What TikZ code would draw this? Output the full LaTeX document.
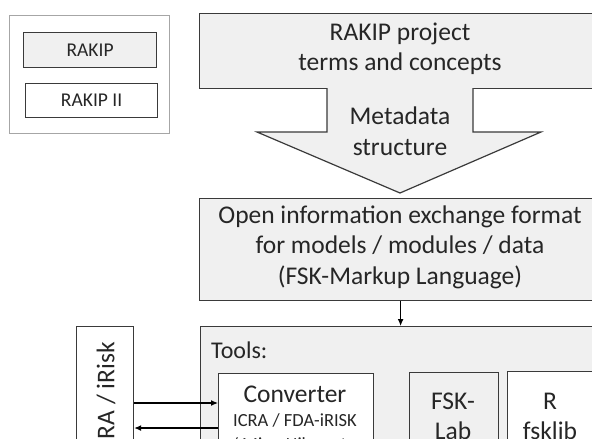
\documentclass[tikz,border=0pt]{standalone}
\usepackage{fontspec}
\setmainfont{Carlito}
\usetikzlibrary{arrows.meta}
\definecolor{boxfill}{HTML}{F0F0F0}
\definecolor{edge}{HTML}{3A3A3A}
\definecolor{legendedge}{HTML}{A6A6A6}
\begin{document}
\begin{tikzpicture}[x=1pt,y=-1pt,
  box/.style={draw=edge, line width=1.2pt, inner sep=0pt, anchor=north west},
  big/.style={font=\fontsize{25.5}{30}\selectfont, align=center, text=black!85},
  mid/.style={font=\fontsize{24}{28}\selectfont, text=black!85},
  small/.style={font=\fontsize{18.5}{22}\selectfont, text=black!85},
  leg/.style={font=\fontsize{19.5}{22}\selectfont, text=black!85},
  arr/.style={line width=1.2pt, draw=black, -{Latex[length=7pt,width=6pt]}}]
\useasboundingbox (0,0) rectangle (592,439);
\clip (0,0) rectangle (592,439);
\fill[white] (0,0) rectangle (592,439);
% legend
\node[draw=legendedge, line width=1pt, anchor=north west, minimum width=160, minimum height=118] (legend) at (9,15) {};
\node[box, fill=boxfill, minimum width=133, minimum height=35, leg] (rakip) at (23,32) {RAKIP};
\node[box, fill=white, minimum width=132, minimum height=34, leg] (rakip2) at (25,83) {RAKIP II};
% top box
\node[box, fill=boxfill, minimum width=402, minimum height=75] (top) at (199,13) {};
\node[big] (toptext) at (400,49) {RAKIP project\\terms and concepts};
% block arrow
\draw[draw=edge, line width=1.2pt, fill=boxfill, line join=miter]
  (327,88) -- (327,132) -- (257,132) -- (400,193) -- (541,132) -- (473,132) -- (473,88);
\node[big, font=\fontsize{25.5}{31}\selectfont] (meta) at (400,131) {Metadata\\structure};
% open format box
\node[box, fill=boxfill, minimum width=402, minimum height=102] (open) at (199,198) {};
\node[big, font=\fontsize{25.5}{30.5}\selectfont] (opentext) at (400,247) {Open information exchange format\\for models / modules / data\\(FSK-Markup Language)};
% tools
\node[box, fill=boxfill, minimum width=420, minimum height=200] (tools) at (200,326) {};
\draw[arr] (open.south) -- (open.south |- tools.north);
\node[mid, anchor=west, inner sep=0pt] (toolslabel) at (211,350) {Tools:};
\node[box, fill=white, minimum width=155, minimum height=100] (conv) at (218,373) {};
\node[big] (convtext) at (295,394) {Converter};
\node[small, align=center, font=\fontsize{18.5}{24}\selectfont] (convsub) at (295,432) {ICRA / FDA-iRISK\\/ MicroHibro etc.};
\node[box, fill=boxfill, minimum width=89, minimum height=100] (fsklab) at (409,372) {};
\node[big] (fsklabtext) at (453,416) {FSK-\\Lab};
\node[box, fill=white, minimum width=100, minimum height=100] (fsklib) at (507,371) {};
\node[big] (fsklibtext) at (550,416) {R\\fsklib};
% left box
\node[box, fill=white, minimum width=57, minimum height=150] (icra) at (76,326) {};
\node[big, rotate=90, anchor=east, inner sep=0pt] (icratext) at (106,342) {ICRA / iRisk};
% connectors
\coordinate (y1) at (0,403);
\coordinate (y2) at (0,428);
\draw[arr] (icra.east |- y1) -- (conv.west |- y1);
\draw[arr] (conv.west |- y2) -- (icra.east |- y2);
\end{tikzpicture}
\end{document}
